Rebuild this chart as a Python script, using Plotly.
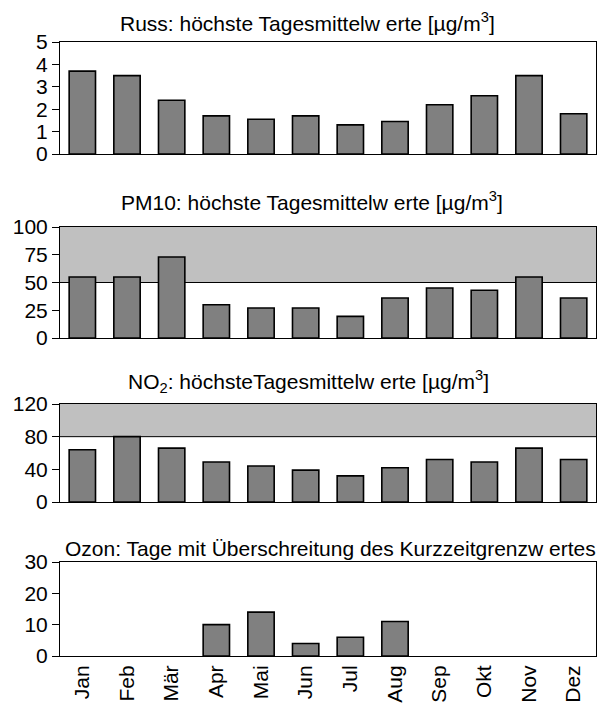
import plotly.graph_objects as go

months = ["Jan", "Feb", "Mär", "Apr", "Mai", "Jun", "Jul", "Aug", "Sep", "Okt", "Nov", "Dez"]

russ = [3.7, 3.5, 2.4, 1.7, 1.55, 1.7, 1.3, 1.45, 2.2, 2.6, 3.5, 1.8]
pm10 = [55, 55, 73, 30, 27, 27, 19.5, 36, 45, 43, 55, 36]
no2 = [64, 80, 66, 49, 44, 39, 32, 42, 52, 49, 66, 52]
ozon = [None, None, None, 10, 14, 4, 6, 11, None, None, None, None]

titles = [
    "Russ: höchste Tagesmittelw erte [µg/m<sup>3</sup>]",
    "PM10: höchste Tagesmittelw erte [µg/m<sup>3</sup>]",
    "NO<sub>2</sub>: höchsteTagesmittelw erte [µg/m<sup>3</sup>]",
    "Ozon: Tage mit Überschreitung des Kurzzeitgrenzw ertes",
]
series = [russ, pm10, no2, ozon]
y_ranges = [[0, 5], [0, 100], [0, 120], [0, 30]]
y_ticks = [[0, 1, 2, 3, 4, 5], [0, 25, 50, 75, 100], [0, 40, 80, 120], [0, 10, 20, 30]]
# limit bands (lower limit, top) per panel; None = no band
limits = [None, [50, 100], [80, 120], None]

W, H = 609, 709
# pixel positions of panels (top, bottom)
panel_px = [(42, 154), (227, 338), (404, 502), (562, 656)]
title_px = [(307, 22), (312, 201), (308, 381), (330, 548)]
left_px, right_px = 60, 596

FONT = "Liberation Sans"
TICK_SIZE = 21
TITLE_SIZE = 21
fig = go.Figure()

for i, vals in enumerate(series):
    n = i + 1
    xa = "x" if n == 1 else f"x{n}"
    ya = "y" if n == 1 else f"y{n}"
    fig.add_trace(go.Bar(
        x=months, y=vals, xaxis=xa, yaxis=ya,
        marker=dict(color="#808080", line=dict(color="black", width=1.6)),
        showlegend=False, hoverinfo="x+y",
    ))
    top, bot = panel_px[i]
    dom_y = [1 - bot / H, 1 - top / H]
    xkey = "xaxis" if n == 1 else f"xaxis{n}"
    ykey = "yaxis" if n == 1 else f"yaxis{n}"
    fig.update_layout(**{
        xkey: dict(
            domain=[left_px / W, right_px / W], anchor=ya,
            categoryorder="array", categoryarray=months,
            showticklabels=(n == 4), tickangle=-90, ticks="",
            showline=True, mirror=True, linecolor="black", linewidth=1,
            showgrid=False, zeroline=False, automargin=False,
            tickfont=dict(family=FONT, size=TICK_SIZE, color="black"),
        ),
        ykey: dict(
            domain=dom_y, anchor=xa, range=y_ranges[i],
            tickvals=y_ticks[i], ticks="outside", ticklen=7, tickcolor="black",
            showline=True, mirror=True, linecolor="black", linewidth=1,
            showgrid=False, zeroline=False, automargin=False,
            tickfont=dict(family=FONT, size=TICK_SIZE, color="black"),
        ),
    })
    if limits[i] is not None:
        lo, hi = limits[i]
        fig.add_shape(type="rect", xref=f"{xa} domain", yref=ya,
                      x0=0, x1=1, y0=lo, y1=hi, fillcolor="#c0c0c0",
                      line=dict(width=0), layer="below")
        fig.add_shape(type="line", xref=f"{xa} domain", yref=ya,
                      x0=0, x1=1, y0=lo, y1=lo,
                      line=dict(color="black", width=1), layer="below")
    tx, ty = title_px[i]
    fig.add_annotation(text=titles[i], xref="paper", yref="paper",
                       x=tx / W, y=1 - ty / H, xanchor="center", yanchor="middle",
                       showarrow=False, font=dict(family=FONT, size=TITLE_SIZE, color="black"))

fig.update_layout(
    width=W, height=H,
    margin=dict(l=0, r=0, t=0, b=0),
    paper_bgcolor="white", plot_bgcolor="white",
    bargap=0.41,
    font=dict(family=FONT, size=TICK_SIZE, color="black"),
)

fig.write_html("out.html", config={"displayModeBar": False},
               post_script="document.body.style.margin='0';")
